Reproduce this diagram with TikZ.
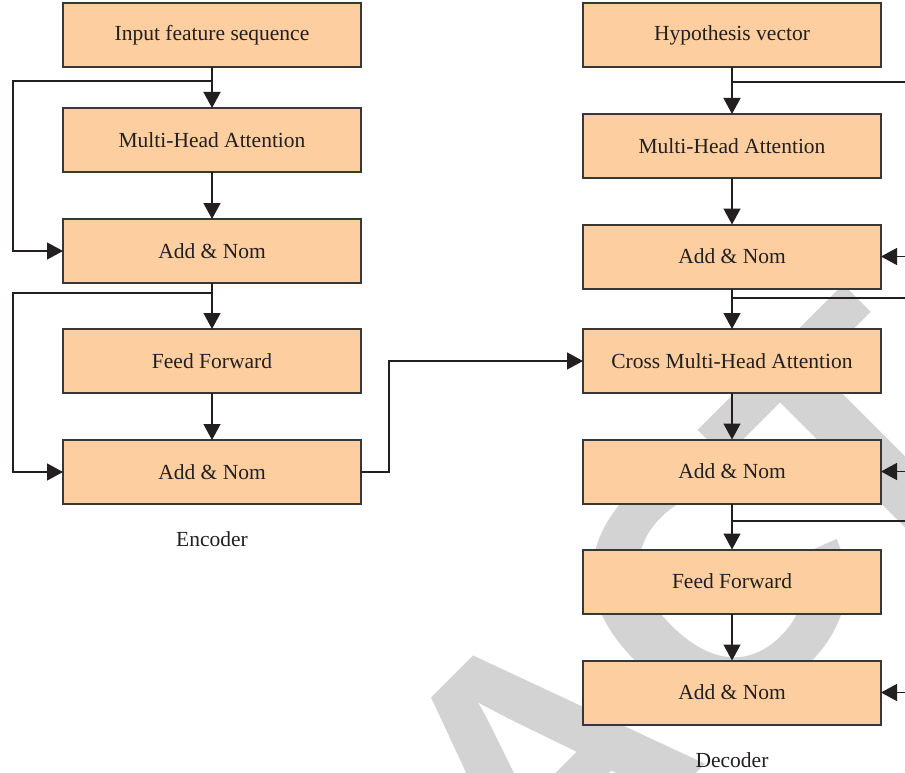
\documentclass[tikz,border=0pt]{standalone}
\usepackage{fontspec}
\setmainfont{Liberation Serif}
\newfontfamily\wmfont{Liberation Sans}
\usetikzlibrary{arrows.meta}
\definecolor{peach}{RGB}{252,206,160}
\definecolor{inkc}{RGB}{35,31,32}
\definecolor{edgec}{RGB}{55,55,55}
\definecolor{wmgray}{RGB}{211,211,211}
\begin{document}
\begin{tikzpicture}[x=1pt,y=-1pt,
  blk/.style={draw=edgec,line width=2pt,fill=peach,minimum width=298pt,minimum height=64pt,inner sep=0pt,outer sep=0pt,text=inkc,font=\fontsize{21.5}{24}\selectfont},
  lbl/.style={text=inkc,inner sep=0pt,font=\fontsize{21.5}{24}\selectfont},
  ln/.style={draw=inkc,line width=1.4pt},
  arr/.style={ln,-{Triangle[length=16pt,width=17pt]}},
  wm/.style={text=wmgray,inner sep=0pt,outer sep=0pt,anchor=base west,rotate=45,font=\wmfont\bfseries\fontsize{350}{350}\selectfont}]
\useasboundingbox (0,0) rectangle (905,773);
\clip (0,0) rectangle (905,773);
\fill[white] (0,0) rectangle (905,773);
% watermark
\node[wm] (wmark) at (533,936) {AC\kern-35pt T};
% encoder
\node[blk] (e1) at (212,35) {Input feature sequence};
\node[blk] (e2) at (212,140) {Multi-Head Attention};
\node[blk] (e3) at (212,251) {Add \& Nom};
\node[blk] (e4) at (212,361) {Feed Forward};
\node[blk] (e5) at (212,472) {Add \& Nom};
\node[lbl] (enc) at (212,539) {Encoder};
% decoder
\node[blk] (d1) at (732,35) {Hypothesis vector};
\node[blk] (d2) at (732,146) {Multi-Head Attention};
\node[blk] (d3) at (732,256.5) {Add \& Nom};
\node[blk] (d4) at (732,361) {Cross Multi-Head Attention};
\node[blk] (d5) at (732,471.5) {Add \& Nom};
\node[blk] (d6) at (732,581.5) {Feed Forward};
\node[blk] (d7) at (732,692.5) {Add \& Nom};
\node[lbl] (dec) at (732,760) {Decoder};
% branch points
\coordinate (s1) at (212,81);
\coordinate (l1) at (13,81);
\coordinate (s2) at (212,293);
\coordinate (l2) at (13,293);
\coordinate (eo) at (389,472);
\coordinate (r1) at (732,82);
\coordinate (q1) at (925,82);
\coordinate (r2) at (732,298);
\coordinate (q2) at (925,298);
\coordinate (r3) at (732,521);
\coordinate (q3) at (925,521);
% encoder connectors
\draw[arr] (e1) -- (e2);
\draw[arr] (e2) -- (e3);
\draw[arr] (e3) -- (e4);
\draw[arr] (e4) -- (e5);
\draw[arr] (s1) -- (l1) |- (e3.west);
\draw[arr] (s2) -- (l2) |- (e5.west);
\draw[arr] (e5.east) -- (eo) |- (d4.west);
% decoder connectors
\draw[arr] (d1) -- (d2);
\draw[arr] (d2) -- (d3);
\draw[arr] (d3) -- (d4);
\draw[arr] (d4) -- (d5);
\draw[arr] (d5) -- (d6);
\draw[arr] (d6) -- (d7);
\draw[arr] (r1) -- (q1) |- (d3.east);
\draw[arr] (r2) -- (q2) |- (d5.east);
\draw[arr] (r3) -- (q3) |- (d7.east);
\end{tikzpicture}
\end{document}
